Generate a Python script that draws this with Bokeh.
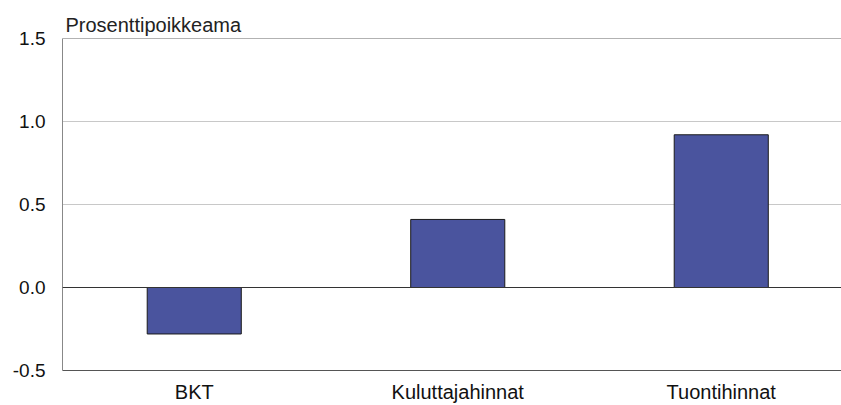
from bokeh.plotting import figure
from bokeh.models import Range1d, FixedTicker, Span
from bokeh.embed import file_html
from bokeh.resources import INLINE

categories = ["BKT", "Kuluttajahinnat", "Tuontihinnat"]
values = [-0.28, 0.41, 0.92]
y_ticks = [-0.5, 0.0, 0.5, 1.0, 1.5]
y_label = "Prosenttipoikkeama"

x_pos = [i + 0.5 for i in range(len(categories))]

p = figure(width=841, height=405, output_backend="svg", toolbar_location=None,
           x_range=Range1d(0, 779 / 263.5), y_range=Range1d(-0.5, 1.5),
           min_border_left=62, min_border_right=0, min_border_top=38, min_border_bottom=33,
           title=y_label)
p.outline_line_color = None
p.background_fill_color = "white"
p.border_fill_color = "white"

p.title.text_font = "Liberation Sans"
p.title.text_font_size = "20px"
p.title.text_font_style = "normal"
p.title.text_color = "#222222"
p.title.align = "left"
p.title.offset = 3
p.title.standoff = 6

p.vbar(x=x_pos, top=values, bottom=0, width=0.357, fill_color="#4a549e",
       line_color="#1a1a1a", line_width=1)

p.yaxis.ticker = FixedTicker(ticks=y_ticks)
p.yaxis.major_label_overrides = {t: f"{t:.1f}" for t in y_ticks}
p.yaxis.major_tick_line_color = None
p.yaxis.minor_tick_line_color = None
p.yaxis.axis_line_color = "#888888"
p.yaxis.major_label_standoff = 11
p.yaxis.major_label_text_font = "Liberation Sans"
p.yaxis.major_label_text_font_size = "19px"
p.yaxis.major_label_text_color = "#111111"

p.xaxis.ticker = FixedTicker(ticks=x_pos)
p.xaxis.major_label_overrides = {x: c for x, c in zip(x_pos, categories)}
p.xaxis.major_tick_line_color = None
p.xaxis.minor_tick_line_color = None
p.xaxis.axis_line_color = "#555555"
p.xaxis.major_label_standoff = 4
p.xaxis.major_label_text_font = "Liberation Sans"
p.xaxis.major_label_text_font_size = "20px"
p.xaxis.major_label_text_color = "#111111"

p.xgrid.grid_line_color = None
p.ygrid.ticker = FixedTicker(ticks=[0.5, 1.0])
p.ygrid.grid_line_color = "#c8c8c8"

p.add_layout(Span(location=0, dimension="width", line_color="#333333", line_width=1))
p.add_layout(Span(location=1.5, dimension="width", line_color="#666666", line_width=1))

open("out.html", "w").write(file_html(p, INLINE))
